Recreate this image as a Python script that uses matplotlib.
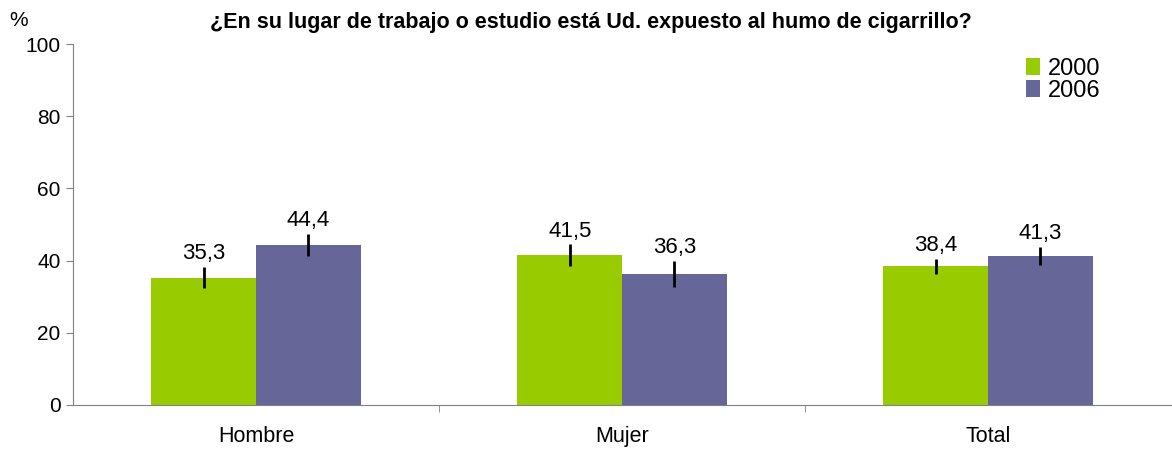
import numpy as np
import matplotlib
matplotlib.use('Agg')
import matplotlib.pyplot as plt

plt.rcParams['font.family'] = ['Liberation Sans', 'DejaVu Sans']

categories = ['Hombre', 'Mujer', 'Total']
years = ['2000', '2006']
values_2000 = [35.3, 41.5, 38.4]
values_2006 = [44.4, 36.3, 41.3]
err_2000 = [2.9, 3.0, 2.1]
err_2006 = [3.0, 3.7, 2.5]
labels_2000 = ['35,3', '41,5', '38,4']
labels_2006 = ['44,4', '36,3', '41,3']

GREEN = '#99CC00'
PURPLE = '#666699'

fig = plt.figure(figsize=(11.72, 4.5), dpi=100)
ax = fig.add_axes([0.0623, 0.1, 0.937, 0.802])

x = np.arange(len(categories))
w = 0.286

ax.bar(x - w / 2, values_2000, w, color=GREEN, label=years[0], zorder=2)
ax.bar(x + w / 2, values_2006, w, color=PURPLE, label=years[1], zorder=2)
ax.errorbar(x - w / 2, values_2000, yerr=err_2000, fmt='none', ecolor='black',
            elinewidth=2, capsize=0, zorder=3)
ax.errorbar(x + w / 2, values_2006, yerr=err_2006, fmt='none', ecolor='black',
            elinewidth=2, capsize=0, zorder=3)

# value labels sit just above each error bar
for xs, vals, errs, labs in [(x - w / 2, values_2000, err_2000, labels_2000),
                             (x + w / 2, values_2006, err_2006, labels_2006)]:
    for xi, v, e, lab in zip(xs, vals, errs, labs):
        ax.annotate(lab, (xi, v + e), xytext=(0, 2), textcoords='offset points',
                    ha='center', va='bottom', fontsize=16)

ax.set_xlim(-0.5, 2.5)
ax.set_ylim(0, 100)
ax.set_yticks(np.arange(0, 101, 20))
ax.tick_params(axis='y', labelsize=15, length=5, color='#808080', direction='out', pad=4)
ax.set_xticks(x)
ax.set_xticklabels(categories, fontsize=15.5)
ax.tick_params(axis='x', length=0, pad=15)
ax.set_xticks([0.5, 1.5], minor=True)
ax.tick_params(axis='x', which='minor', length=5, color='#808080', direction='out')

for side in ['top', 'right']:
    ax.spines[side].set_visible(False)
for side in ['left', 'bottom']:
    ax.spines[side].set_color('#808080')

ax.legend(loc='upper left', bbox_to_anchor=(0.868, 0.962), frameon=False,
          fontsize=17, handlelength=0.6, handleheight=0.7, handletextpad=0.3,
          labelspacing=0.0, borderpad=0, borderaxespad=0)

fig.text(0.504, 0.951, '¿En su lugar de trabajo o estudio está Ud. expuesto al humo de cigarrillo?',
         ha='center', va='center', fontsize=15.5, fontweight='bold')
fig.text(0.008, 0.955, '%', ha='left', va='center', fontsize=15)

fig.savefig('out.png', dpi=100)
